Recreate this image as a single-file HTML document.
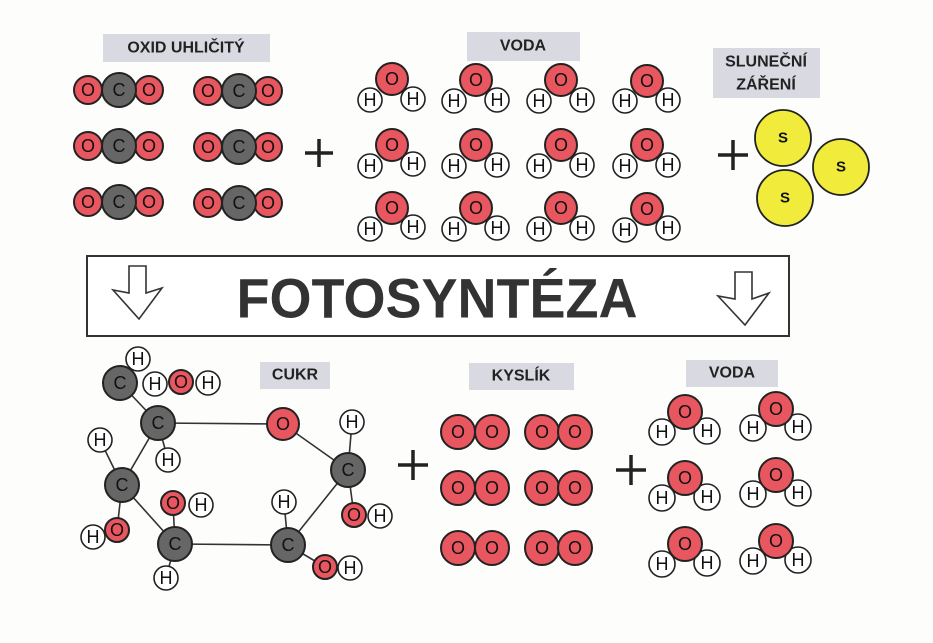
<!DOCTYPE html>
<html><head><meta charset="utf-8"><style>
html,body{margin:0;padding:0;background:#fdfdfb;}
svg{display:block}
text{font-family:"Liberation Sans",sans-serif;font-weight:bold;fill:#222;text-anchor:middle;dominant-baseline:central}
.o{fill:#e8575f;stroke:#222;stroke-width:2}
.c{fill:#666;stroke:#222;stroke-width:2}
.h{fill:#fff;stroke:#222;stroke-width:1.6}
.s{fill:#f1ec3c;stroke:#222;stroke-width:1.8}
.lb{fill:#d9d9e2}
.a{font-size:18px;font-weight:normal;fill:#111}
.l{font-size:16px}
.ss{font-size:15px;font-weight:bold;fill:#111}
</style></head><body>
<svg width="933" height="643" viewBox="0 0 933 643" xmlns="http://www.w3.org/2000/svg">
<rect class="lb" x="103" y="34" width="167" height="28"/><text class="l" x="186" y="48">OXID UHLIČITÝ</text>
<rect class="lb" x="467" y="32" width="113" height="29"/><text class="l" x="523" y="46">VODA</text>
<rect class="lb" x="713" y="48" width="107" height="50"/><text class="l" x="766" y="62">SLUNEČNÍ</text><text class="l" x="766" y="85">ZÁŘENÍ</text>
<rect class="lb" x="260" y="362" width="70" height="27"/><text class="l" x="295" y="375">CUKR</text>
<rect class="lb" x="469" y="363" width="105" height="27"/><text class="l" x="521" y="376">KYSLÍK</text>
<rect class="lb" x="686" y="360" width="92" height="27"/><text class="l" x="732" y="373">VODA</text>

<g>
<circle class="o" cx="88" cy="90" r="14"/><circle class="o" cx="149" cy="90" r="14"/><circle class="c" cx="119" cy="90" r="17"/>
<text class="a" x="88" y="90">O</text><text class="a" x="119" y="90">C</text><text class="a" x="149" y="90">O</text>
<circle class="o" cx="208" cy="91" r="14"/><circle class="o" cx="268" cy="91" r="14"/><circle class="c" cx="239" cy="91" r="17"/>
<text class="a" x="208" y="91">O</text><text class="a" x="239" y="91">C</text><text class="a" x="268" y="91">O</text>
<circle class="o" cx="88" cy="146" r="14"/><circle class="o" cx="149" cy="146" r="14"/><circle class="c" cx="119" cy="146" r="17"/>
<text class="a" x="88" y="146">O</text><text class="a" x="119" y="146">C</text><text class="a" x="149" y="146">O</text>
<circle class="o" cx="208" cy="147" r="14"/><circle class="o" cx="268" cy="147" r="14"/><circle class="c" cx="239" cy="147" r="17"/>
<text class="a" x="208" y="147">O</text><text class="a" x="239" y="147">C</text><text class="a" x="268" y="147">O</text>
<circle class="o" cx="88" cy="202" r="14"/><circle class="o" cx="149" cy="202" r="14"/><circle class="c" cx="119" cy="202" r="17"/>
<text class="a" x="88" y="202">O</text><text class="a" x="119" y="202">C</text><text class="a" x="149" y="202">O</text>
<circle class="o" cx="208" cy="203" r="14"/><circle class="o" cx="268" cy="203" r="14"/><circle class="c" cx="239" cy="203" r="17"/>
<text class="a" x="208" y="203">O</text><text class="a" x="239" y="203">C</text><text class="a" x="268" y="203">O</text>
</g>

<g stroke="#222" stroke-width="3.5">
<path d="M305 153h28M319 139v28"/>
<path d="M718 155h30M733 140v30"/>
<path d="M398 465h30M413 450v30"/>
<path d="M616 470h30M631 455v30"/>
</g>

<g>
<circle class="h" cx="370" cy="100" r="12"/><circle class="h" cx="413" cy="99" r="12"/><circle class="o" cx="392" cy="79" r="16"/>
<text class="a" x="392" y="79">O</text><text class="a" x="370" y="100">H</text><text class="a" x="413" y="99">H</text>
<circle class="h" cx="454" cy="101" r="12"/><circle class="h" cx="497" cy="100" r="12"/><circle class="o" cx="476" cy="80" r="16"/>
<text class="a" x="476" y="80">O</text><text class="a" x="454" y="101">H</text><text class="a" x="497" y="100">H</text>
<circle class="h" cx="539" cy="101" r="12"/><circle class="h" cx="582" cy="100" r="12"/><circle class="o" cx="561" cy="80" r="16"/>
<text class="a" x="561" y="80">O</text><text class="a" x="539" y="101">H</text><text class="a" x="582" y="100">H</text>
<circle class="h" cx="625" cy="101" r="12"/><circle class="h" cx="668" cy="100" r="12"/><circle class="o" cx="647" cy="81" r="16"/>
<text class="a" x="647" y="81">O</text><text class="a" x="625" y="101">H</text><text class="a" x="668" y="100">H</text>

<circle class="h" cx="370" cy="166" r="12"/><circle class="h" cx="413" cy="164" r="12"/><circle class="o" cx="392" cy="145" r="16"/>
<text class="a" x="392" y="145">O</text><text class="a" x="370" y="166">H</text><text class="a" x="413" y="164">H</text>
<circle class="h" cx="454" cy="166" r="12"/><circle class="h" cx="497" cy="165" r="12"/><circle class="o" cx="476" cy="145" r="16"/>
<text class="a" x="476" y="145">O</text><text class="a" x="454" y="166">H</text><text class="a" x="497" y="165">H</text>
<circle class="h" cx="539" cy="166" r="12"/><circle class="h" cx="582" cy="165" r="12"/><circle class="o" cx="561" cy="145" r="16"/>
<text class="a" x="561" y="145">O</text><text class="a" x="539" y="166">H</text><text class="a" x="582" y="165">H</text>
<circle class="h" cx="625" cy="166" r="12"/><circle class="h" cx="668" cy="165" r="12"/><circle class="o" cx="647" cy="145" r="16"/>
<text class="a" x="647" y="145">O</text><text class="a" x="625" y="166">H</text><text class="a" x="668" y="165">H</text>

<circle class="h" cx="370" cy="229" r="12"/><circle class="h" cx="413" cy="227" r="12"/><circle class="o" cx="392" cy="208" r="16"/>
<text class="a" x="392" y="208">O</text><text class="a" x="370" y="229">H</text><text class="a" x="413" y="227">H</text>
<circle class="h" cx="454" cy="229" r="12"/><circle class="h" cx="497" cy="228" r="12"/><circle class="o" cx="476" cy="208" r="16"/>
<text class="a" x="476" y="208">O</text><text class="a" x="454" y="229">H</text><text class="a" x="497" y="228">H</text>
<circle class="h" cx="539" cy="229" r="12"/><circle class="h" cx="582" cy="228" r="12"/><circle class="o" cx="561" cy="208" r="16"/>
<text class="a" x="561" y="208">O</text><text class="a" x="539" y="229">H</text><text class="a" x="582" y="228">H</text>
<circle class="h" cx="625" cy="230" r="12"/><circle class="h" cx="668" cy="228" r="12"/><circle class="o" cx="647" cy="209" r="16"/>
<text class="a" x="647" y="209">O</text><text class="a" x="625" y="230">H</text><text class="a" x="668" y="228">H</text>
</g>

<circle class="s" cx="783" cy="138" r="28"/><text class="ss" x="783" y="138">S</text>
<circle class="s" cx="841" cy="167" r="28"/><text class="ss" x="841" y="167">S</text>
<circle class="s" cx="785" cy="198" r="28"/><text class="ss" x="785" y="198">S</text>

<rect x="87" y="256" width="702" height="80" fill="#fff" stroke="#333" stroke-width="2"/>
<text x="437" y="298" font-size="56" textLength="401" lengthAdjust="spacingAndGlyphs" style="fill:#333">FOTOSYNTÉZA</text>
<path d="M129 266h17v27l16-5-23 31-26-29 16 3z" fill="#fff" stroke="#333" stroke-width="1.6"/>
<path d="M735 272h17v27l17-6-24 32-27-29 17 3z" fill="#fff" stroke="#333" stroke-width="1.6"/>

<g stroke="#333" stroke-width="1.6" fill="none">
<path d="M120 383L158 423L283 424L348 470L288 545L175 544L122 485L158 423"/>
<path d="M158 423L168 460M122 485L100 440M122 485L117 530M175 544L173 503M175 544L166 578M288 545L284 502M288 545L325 567M348 470L352 422M348 470L354 515"/>
</g>
<g>
<circle class="c" cx="120" cy="383" r="17"/>
<circle class="h" cx="138" cy="359" r="12"/><circle class="h" cx="155" cy="384" r="12"/><circle class="o" cx="181" cy="382" r="12"/><circle class="h" cx="208" cy="383" r="12"/>
<text class="a" x="120" y="383">C</text><text class="a" x="138" y="359">H</text><text class="a" x="155" y="384">H</text><text class="a" x="181" y="382">O</text><text class="a" x="208" y="383">H</text>
<circle class="c" cx="158" cy="423" r="17"/><text class="a" x="158" y="423">C</text>
<circle class="h" cx="168" cy="460" r="12"/><text class="a" x="168" y="460">H</text>
<circle class="o" cx="283" cy="424" r="16"/><text class="a" x="283" y="424">O</text>
<circle class="h" cx="100" cy="440" r="12"/><text class="a" x="100" y="440">H</text>
<circle class="c" cx="122" cy="485" r="17"/><text class="a" x="122" y="485">C</text>
<circle class="h" cx="93" cy="537" r="12"/><circle class="o" cx="117" cy="530" r="12"/>
<text class="a" x="93" y="537">H</text><text class="a" x="117" y="530">O</text>
<circle class="h" cx="201" cy="505" r="12"/><circle class="o" cx="173" cy="503" r="12"/>
<text class="a" x="201" y="505">H</text><text class="a" x="173" y="503">O</text>
<circle class="c" cx="175" cy="544" r="17"/><text class="a" x="175" y="544">C</text>
<circle class="h" cx="166" cy="578" r="12"/><text class="a" x="166" y="578">H</text>
<circle class="h" cx="284" cy="502" r="12"/><text class="a" x="284" y="502">H</text>
<circle class="c" cx="288" cy="545" r="17"/><text class="a" x="288" y="545">C</text>
<circle class="h" cx="350" cy="568" r="12"/><circle class="o" cx="325" cy="567" r="12"/>
<text class="a" x="350" y="568">H</text><text class="a" x="325" y="567">O</text>
<circle class="h" cx="352" cy="422" r="12"/><text class="a" x="352" y="422">H</text>
<circle class="c" cx="348" cy="470" r="17"/><text class="a" x="348" y="470">C</text>
<circle class="h" cx="380" cy="516" r="12"/><circle class="o" cx="354" cy="515" r="12"/>
<text class="a" x="380" y="516">H</text><text class="a" x="354" y="515">O</text>
</g>

<g>
<circle class="o" cx="458" cy="432" r="17"/><circle class="o" cx="492" cy="432" r="17"/><text class="a" x="458" y="432">O</text><text class="a" x="492" y="432">O</text>
<circle class="o" cx="542" cy="432" r="17"/><circle class="o" cx="575" cy="432" r="17"/><text class="a" x="542" y="432">O</text><text class="a" x="575" y="432">O</text>
<circle class="o" cx="458" cy="488" r="17"/><circle class="o" cx="492" cy="488" r="17"/><text class="a" x="458" y="488">O</text><text class="a" x="492" y="488">O</text>
<circle class="o" cx="542" cy="488" r="17"/><circle class="o" cx="575" cy="488" r="17"/><text class="a" x="542" y="488">O</text><text class="a" x="575" y="488">O</text>
<circle class="o" cx="458" cy="548" r="17"/><circle class="o" cx="492" cy="548" r="17"/><text class="a" x="458" y="548">O</text><text class="a" x="492" y="548">O</text>
<circle class="o" cx="542" cy="548" r="17"/><circle class="o" cx="575" cy="548" r="17"/><text class="a" x="542" y="548">O</text><text class="a" x="575" y="548">O</text>
</g>

<g>
<circle class="h" cx="662" cy="432" r="13"/><circle class="h" cx="707" cy="431" r="13"/><circle class="o" cx="685" cy="412" r="17"/>
<text class="a" x="685" y="412">O</text><text class="a" x="662" y="432">H</text><text class="a" x="707" y="431">H</text>
<circle class="h" cx="753" cy="428" r="13"/><circle class="h" cx="798" cy="427" r="13"/><circle class="o" cx="776" cy="409" r="17"/>
<text class="a" x="776" y="409">O</text><text class="a" x="753" y="428">H</text><text class="a" x="798" y="427">H</text>
<circle class="h" cx="662" cy="498" r="13"/><circle class="h" cx="707" cy="497" r="13"/><circle class="o" cx="685" cy="478" r="17"/>
<text class="a" x="685" y="478">O</text><text class="a" x="662" y="498">H</text><text class="a" x="707" y="497">H</text>
<circle class="h" cx="753" cy="494" r="13"/><circle class="h" cx="798" cy="493" r="13"/><circle class="o" cx="776" cy="475" r="17"/>
<text class="a" x="776" y="475">O</text><text class="a" x="753" y="494">H</text><text class="a" x="798" y="493">H</text>
<circle class="h" cx="662" cy="564" r="13"/><circle class="h" cx="707" cy="563" r="13"/><circle class="o" cx="685" cy="544" r="17"/>
<text class="a" x="685" y="544">O</text><text class="a" x="662" y="564">H</text><text class="a" x="707" y="563">H</text>
<circle class="h" cx="753" cy="561" r="13"/><circle class="h" cx="798" cy="560" r="13"/><circle class="o" cx="776" cy="541" r="17"/>
<text class="a" x="776" y="541">O</text><text class="a" x="753" y="561">H</text><text class="a" x="798" y="560">H</text>
</g>
</svg>
</body></html>
